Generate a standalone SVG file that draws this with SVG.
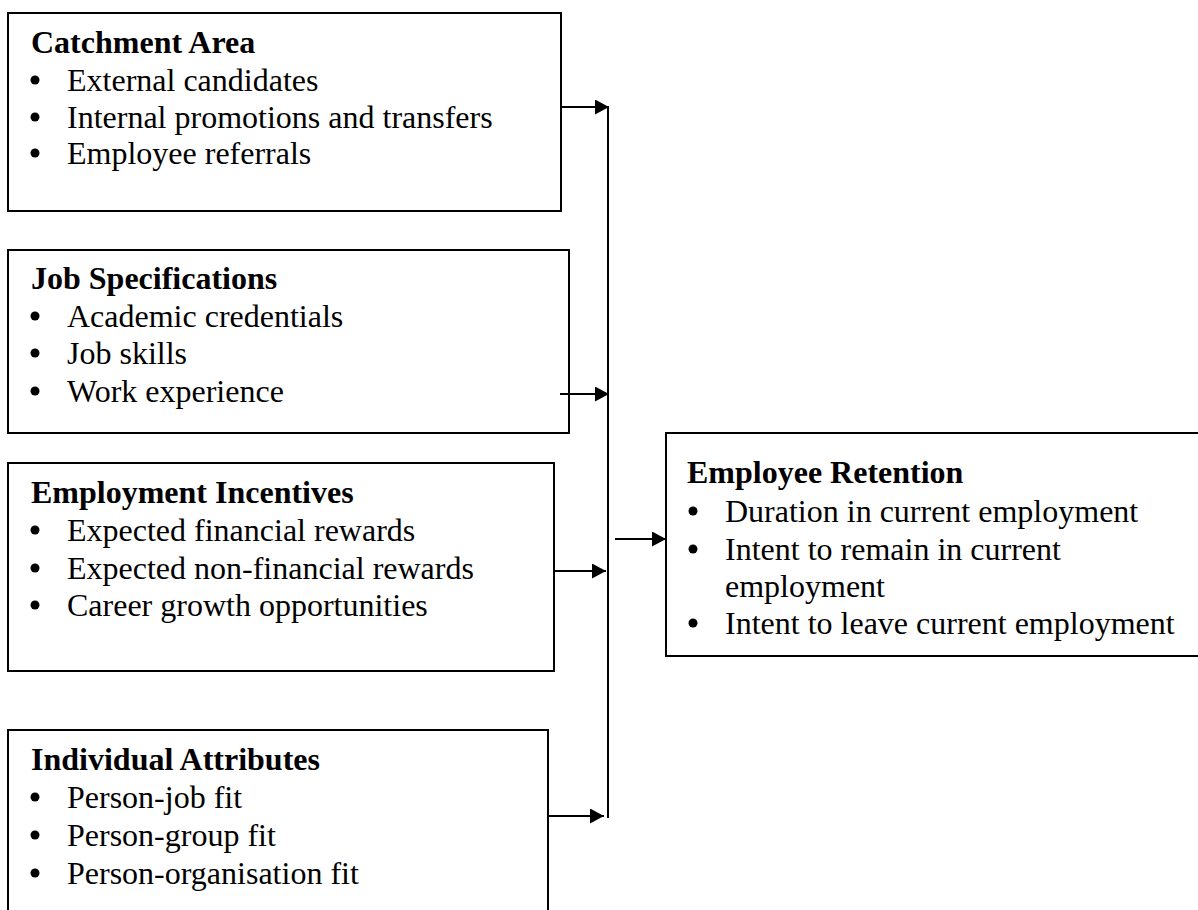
<svg xmlns="http://www.w3.org/2000/svg" width="1198" height="910" viewBox="0 0 1198 910">
<style>
.box{fill:#fff;stroke:#000;stroke-width:2}
.t{font-family:"Liberation Serif","Times New Roman",serif;font-size:32px;fill:#000}
.h{font-weight:bold}
.c{stroke:#000;stroke-width:2;fill:none}
</style>
<defs>
<marker id="ah" markerWidth="14" markerHeight="15" refX="14" refY="7.5" orient="auto" markerUnits="userSpaceOnUse" viewBox="0 0 14 15">
<path d="M0,0 L14,7.5 L0,15 z" fill="#000"/>
</marker>
<circle id="b" r="4.5" fill="#000"/>
</defs>
<rect width="1198" height="910" fill="#fff"/>
<g id="catchment">
<rect class="box" x="8" y="13" width="553" height="198"/>
<text class="t h" x="31" y="53">Catchment Area</text>
<use href="#b" x="35" y="80"/><text class="t" x="67" y="91">External candidates</text>
<use href="#b" x="35" y="117"/><text class="t" x="67" y="128">Internal promotions and transfers</text>
<use href="#b" x="35" y="153"/><text class="t" x="67" y="164">Employee referrals</text>
</g>
<g id="jobspec">
<rect class="box" x="8" y="250" width="561" height="183"/>
<text class="t h" x="31" y="289">Job Specifications</text>
<use href="#b" x="35" y="316"/><text class="t" x="67" y="327">Academic credentials</text>
<use href="#b" x="35" y="353"/><text class="t" x="67" y="364">Job skills</text>
<use href="#b" x="35" y="391"/><text class="t" x="67" y="402">Work experience</text>
</g>
<g id="incentives">
<rect class="box" x="8" y="463" width="546" height="208"/>
<text class="t h" x="31" y="503">Employment Incentives</text>
<use href="#b" x="35" y="530"/><text class="t" x="67" y="541">Expected financial rewards</text>
<use href="#b" x="35" y="568"/><text class="t" x="67" y="579">Expected non-financial rewards</text>
<use href="#b" x="35" y="605"/><text class="t" x="67" y="616">Career growth opportunities</text>
</g>
<g id="attributes">
<rect class="box" x="8" y="730" width="540" height="195"/>
<text class="t h" x="31" y="770">Individual Attributes</text>
<use href="#b" x="35" y="797"/><text class="t" x="67" y="808">Person-job fit</text>
<use href="#b" x="35" y="835"/><text class="t" x="67" y="846">Person-group fit</text>
<use href="#b" x="35" y="873"/><text class="t" x="67" y="884">Person-organisation fit</text>
</g>
<g id="retention">
<rect class="box" x="666" y="433" width="545" height="223"/>
<text class="t h" x="687" y="483">Employee Retention</text>
<use href="#b" x="693" y="511"/><text class="t" x="725" y="522">Duration in current employment</text>
<use href="#b" x="693" y="549"/><text class="t" x="725" y="560">Intent to remain in current</text>
<text class="t" x="725" y="597">employment</text>
<use href="#b" x="693" y="623"/><text class="t" x="725" y="634">Intent to leave current employment</text>
</g>
<g id="connectors">
<line class="c" x1="608" y1="106" x2="608" y2="818"/>
<line class="c" x1="561" y1="107" x2="609" y2="107" marker-end="url(#ah)"/>
<line class="c" x1="560" y1="394" x2="609" y2="394" marker-end="url(#ah)"/>
<line class="c" x1="554" y1="571" x2="606" y2="571" marker-end="url(#ah)"/>
<line class="c" x1="548" y1="816" x2="604" y2="816" marker-end="url(#ah)"/>
<line class="c" x1="615" y1="539" x2="666" y2="539" marker-end="url(#ah)"/>
</g>
</svg>
